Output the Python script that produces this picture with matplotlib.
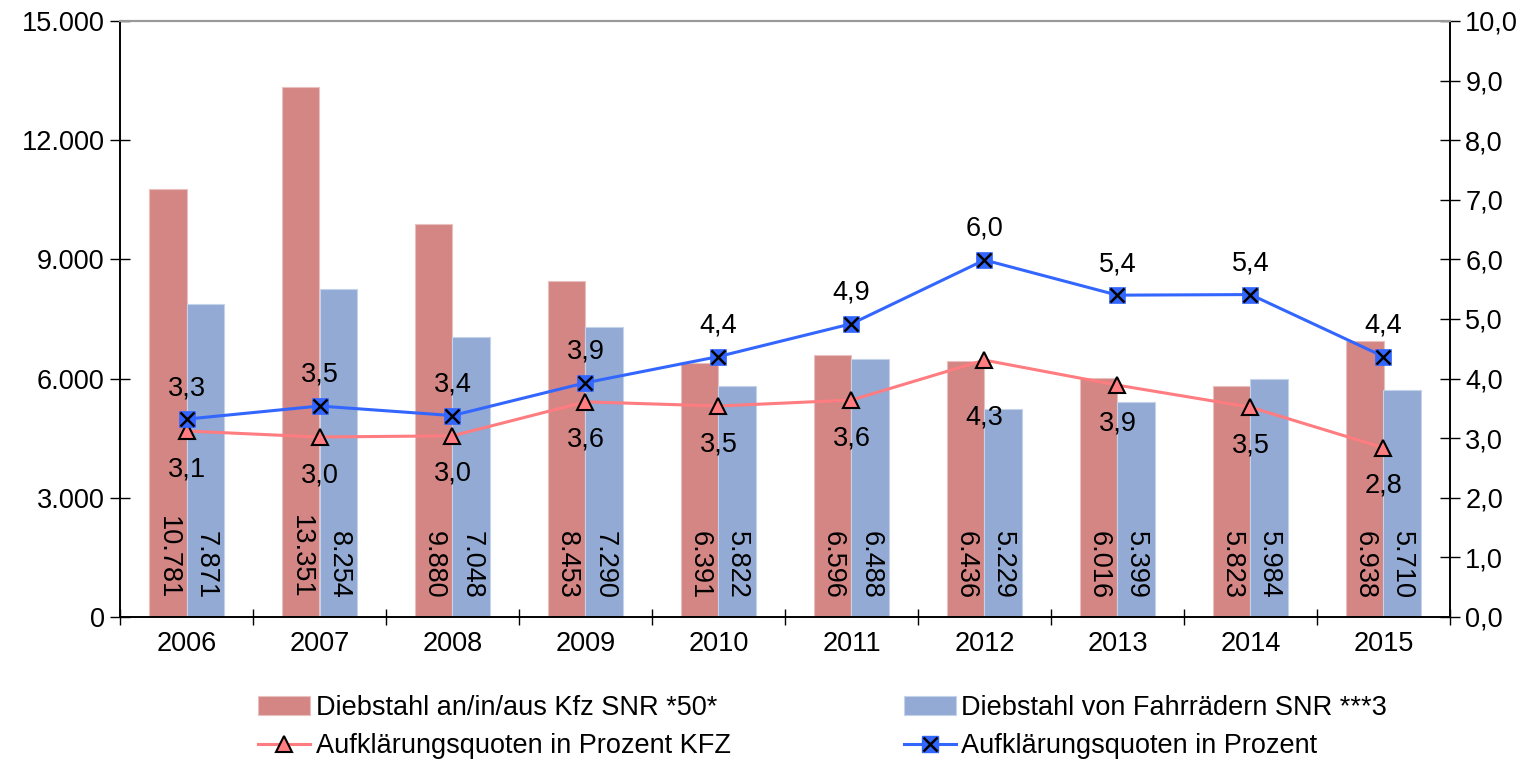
import matplotlib
matplotlib.use("Agg")
import matplotlib.pyplot as plt
import numpy as np
from matplotlib.ticker import FuncFormatter, FixedLocator
from matplotlib.legend_handler import HandlerTuple
from matplotlib.lines import Line2D

plt.rcParams['font.family'] = ['Liberation Sans', 'DejaVu Sans']

years = ['2006', '2007', '2008', '2009', '2010', '2011', '2012', '2013', '2014', '2015']
kfz = [10781, 13351, 9880, 8453, 6391, 6596, 6436, 6016, 5823, 6938]
fahrrad = [7871, 8254, 7048, 7290, 5822, 6488, 5229, 5399, 5984, 5710]
quote_kfz = [3.12, 3.02, 3.04, 3.61, 3.54, 3.64, 4.31, 3.89, 3.52, 2.84]
quote_all = [3.32, 3.54, 3.38, 3.93, 4.37, 4.92, 5.99, 5.40, 5.41, 4.37]

lbl_kfz = 'Diebstahl an/in/aus Kfz SNR *50*'
lbl_fahr = 'Diebstahl von Fahrrädern SNR ***3'
lbl_qkfz = 'Aufklärungsquoten in Prozent KFZ'
lbl_qall = 'Aufklärungsquoten in Prozent'

c_red_bar = '#D38683'
c_blue_bar = '#92AAD4'
c_red_line = '#FF7C80'
c_blue_line = '#3366FF'

fs = 19.5
fig = plt.figure(figsize=(15.32, 7.59), dpi=100)
ax = fig.add_axes([120/1532, 1-617/759, 1330/1532, 596/759])
ax2 = ax.twinx()

x = np.arange(len(years))
w = 0.284
b1 = ax.bar(x - w/2, kfz, w, color=c_red_bar, edgecolor='#E8C0BF', linewidth=0.8, label=lbl_kfz, zorder=2)
b2 = ax.bar(x + w/2, fahrrad, w, color=c_blue_bar, edgecolor='#C5D3EA', linewidth=0.8, label=lbl_fahr, zorder=2)

def de(v):
    return f'{v:,.0f}'.replace(',', '.')

for xi, v in zip(x - w/2, kfz):
    ax.annotate(de(v), xy=(xi, 0), xytext=(0, 13), textcoords='offset points',
                rotation=270, ha='center', va='bottom', fontsize=fs, zorder=3)
for xi, v in zip(x + w/2, fahrrad):
    ax.annotate(de(v), xy=(xi, 0), xytext=(0, 13), textcoords='offset points',
                rotation=270, ha='center', va='bottom', fontsize=fs, zorder=3)

ax.set_ylim(0, 15000)
ax.set_yticks(np.arange(0, 15001, 3000))
ax.yaxis.set_major_formatter(FuncFormatter(lambda v, p: de(v)))
ax.set_xlim(-0.5, 9.5)
ax.xaxis.set_major_locator(FixedLocator(np.arange(-0.5, 10, 1)))
ax.xaxis.set_major_formatter(FuncFormatter(lambda v, p: ''))
ax.xaxis.set_minor_locator(FixedLocator(x))
ax.set_xticklabels(years, minor=True)
ax.tick_params(axis='x', which='minor', length=0, labelsize=fs, pad=10)
ax.tick_params(axis='x', which='major', direction='inout', length=12, width=1)
ax.tick_params(axis='y', direction='inout', length=14, width=1, labelsize=fs, pad=4)

ax2.set_ylim(0, 10)
ax2.set_yticks(np.arange(0, 10.01, 1))
ax2.yaxis.set_major_formatter(FuncFormatter(lambda v, p: f'{v:.1f}'.replace('.', ',')))
ax2.tick_params(axis='y', direction='inout', length=14, width=1, labelsize=fs, pad=4)

for a in (ax, ax2):
    a.spines['top'].set_color('#999999')
    a.spines['top'].set_linewidth(1.5)
    for s in ('left', 'right', 'bottom'):
        a.spines[s].set_color('black')
        a.spines[s].set_linewidth(1.2)

l1, = ax2.plot(x, quote_kfz, color=c_red_line, lw=2.2, marker='^', ms=11,
               markerfacecolor=c_red_line, markeredgecolor='black', markeredgewidth=1.5, zorder=4)
l2, = ax2.plot(x, quote_all, color=c_blue_line, lw=2.2, marker='s', ms=12,
               markerfacecolor=c_blue_line, markeredgecolor=c_blue_line, markeredgewidth=0.5, zorder=5)
l2x, = ax2.plot(x, quote_all, ls='none', marker='x', ms=10, markeredgecolor='black',
                markeredgewidth=1.8, zorder=6)

for xi, v in zip(x, quote_all):
    ax2.annotate(f'{v:.1f}'.replace('.', ','), xy=(xi, v), xytext=(0, 13), textcoords='offset points',
                 ha='center', va='bottom', fontsize=fs, zorder=7)
for i, (xi, v) in enumerate(zip(x, quote_kfz)):
    dy = -32 if i == 6 else -18
    ax2.annotate(f'{v:.1f}'.replace('.', ','), xy=(xi, v), xytext=(0, dy), textcoords='offset points',
                 ha='center', va='top', fontsize=fs, zorder=7)

ax.set_zorder(1)
ax2.set_zorder(2)
ax2.patch.set_visible(False)

# legend
h_qkfz = Line2D([], [], color=c_red_line, lw=2.2, marker='^', ms=11,
                markerfacecolor=c_red_line, markeredgecolor='black', markeredgewidth=1.5)
h_s = Line2D([], [], color=c_blue_line, lw=2.2, marker='s', ms=12,
             markerfacecolor=c_blue_line, markeredgecolor=c_blue_line)
h_x = Line2D([], [], ls='none', marker='x', ms=10, markeredgecolor='black', markeredgewidth=1.8)
handles = [b1, h_qkfz, b2, (h_s, h_x)]
labels = [lbl_kfz, lbl_qkfz, lbl_fahr, lbl_qall]
fig.legend(handles, labels, ncol=2, loc='center', bbox_to_anchor=(0.537, 1-727/759),
           frameon=False, fontsize=fs, handlelength=1.92, handletextpad=0.2,
           columnspacing=6.4, labelspacing=0.45, handleheight=0.7,
           handler_map={tuple: HandlerTuple(ndivide=1)})

fig.savefig('out.png', dpi=100)
